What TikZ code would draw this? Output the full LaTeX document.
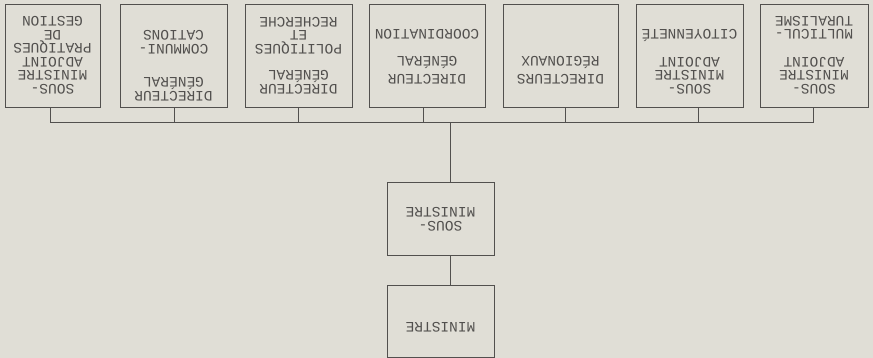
\documentclass[tikz,border=0pt]{standalone}
\usepackage{fontspec}
\setmonofont{Liberation Mono}
\usepackage{xcolor}
\usepackage{tikz}
\usetikzlibrary{positioning}

\definecolor{paper}{RGB}{224,222,214}
\definecolor{ink}{RGB}{82,80,78}

% typewriter text, top aligned inside a box of fixed size
\newcommand{\orgfont}{\ttfamily\fontsize{14.5}{13.5}\selectfont}
\newcommand{\orgtext}[4]{\parbox[c][#2][t]{#1}{\centering\vspace*{#3}#4}}

\tikzset{
  orgbox/.style={draw=ink, line width=1pt, rotate=180, inner sep=0pt,
    font=\orgfont, text=ink},
  link/.style={draw=ink, line width=1pt},
}

\begin{document}
\begin{tikzpicture}[x=1pt, y=-1pt]
  % page
  \fill[paper] (0,0) rectangle (873,358);
  \useasboundingbox (0,0) rectangle (873,358);

  % top row (whole chart is upside down)
  \node[orgbox] (b1) at (52.5,56.5)
    {\orgtext{95pt}{103pt}{14pt}{SOUS-\\MINISTRE\\ADJOINT\\PRATIQUES\\DE\\GESTION}};
  \node[orgbox] (b2) at (173.5,56.5)
    {\orgtext{107pt}{103pt}{7pt}{DIRECTEUR\\GÉNÉRAL\\[20pt]COMMUNI-\\CATIONS}};
  \node[orgbox] (b3) at (298.5,56.5)
    {\orgtext{107pt}{103pt}{14pt}{DIRECTEUR\\GÉNÉRAL\\[13pt]POLITIQUES\\ET\\RECHERCHE}};
  \node[orgbox] (b4) at (427,56.5)
    {\orgtext{116pt}{103pt}{24pt}{DIRECTEUR\\[4.5pt]GÉNÉRAL\\[13.5pt]COORDINATION}};
  \node[orgbox] (b5) at (560.5,56.5)
    {\orgtext{115pt}{103pt}{24pt}{DIRECTEURS\\[4.5pt]RÉGIONAUX}};
  \node[orgbox] (b6) at (689.5,56.5)
    {\orgtext{107pt}{103pt}{14pt}{SOUS-\\MINISTRE\\ADJOINT\\[14.5pt]CITOYENNETÉ}};
  \node[orgbox] (b7) at (814,56.5)
    {\orgtext{108pt}{103pt}{14pt}{SOUS-\\MINISTRE\\ADJOINT\\[14pt]MULTICUL-\\TURALISME}};

  % lower boxes
  \node[orgbox] (sm) at (440.5,219.5)
    {\orgtext{107pt}{73pt}{25pt}{SOUS-\\MINISTRE}};
  \node[orgbox] (min) at (440.5,321)
    {\orgtext{107pt}{72pt}{25pt}{MINISTRE}};

  \coordinate (bus) at (450,123);

  % connectors (drops are not quite centred)
  \foreach \b/\dx in {b1/-2.5,b2/0.5,b3/-0.5,b4/-4,b5/4.5,b6/8.5,b7/-1}
    \draw[link] ([xshift=\dx pt]\b.north) -- ([xshift=\dx pt]\b.north |- bus);
  \draw[link] ([xshift=-2.5pt]b1.north |- bus) -- ([xshift=-1pt]b7.north |- bus);
  \draw[link] (sm.south -| bus) -- (bus);
  \draw[link] (sm.north -| bus) -- (min.south -| bus);
\end{tikzpicture}
\end{document}
